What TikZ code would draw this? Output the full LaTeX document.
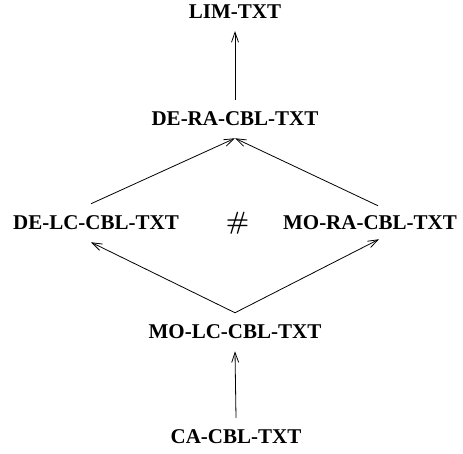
\documentclass[tikz,border=0pt]{standalone}
\usepackage{fontspec}
\setmainfont{Liberation Serif}
\newfontfamily\lmfont{Latin Modern Roman}
\usetikzlibrary{arrows.meta,calc}
\begin{document}
\begin{tikzpicture}[x=1pt,y=-1pt,
  lbl/.style={inner sep=12pt, font=\fontsize{21}{25}\selectfont\bfseries},
  arr/.style={line width=0.8pt, -{Straight Barb[length=10pt,width=7pt,line width=0.8pt]}}]
  \useasboundingbox (0,0) rectangle (463,453);
  % lattice of nodes
  \node[lbl] (lim)  at (235,12)  {LIM-TXT};
  \node[lbl] (dera) at (235,119) {DE-RA-CBL-TXT};
  \node[lbl] (delc) at (96,223)  {DE-LC-CBL-TXT};
  \node[lbl] (mora) at (370,223) {MO-RA-CBL-TXT};
  \node[inner sep=0pt, font=\lmfont\bfseries\fontsize{25}{28}\selectfont] (hash) at (237.5,223) {\#};
  \node[lbl] (molc) at (235,332) {MO-LC-CBL-TXT};
  \node[lbl] (ca)   at (236,437) {CA-CBL-TXT};
  % connectors
  \draw[arr] (dera.north) -- (lim.south);
  \draw[arr] ($(delc.north)+(-5,0)$) -- (dera.south);
  \draw[arr] ($(mora.north)+(8,2)$) -- (dera.south);
  \draw[arr] (molc.north) -- ($(delc.south)+(-5,0)$);
  \draw[arr] (molc.north) -- ($(mora.south)+(9,-3)$);
  \draw[arr] (ca.north) -- (molc.south);
\end{tikzpicture}
\end{document}
